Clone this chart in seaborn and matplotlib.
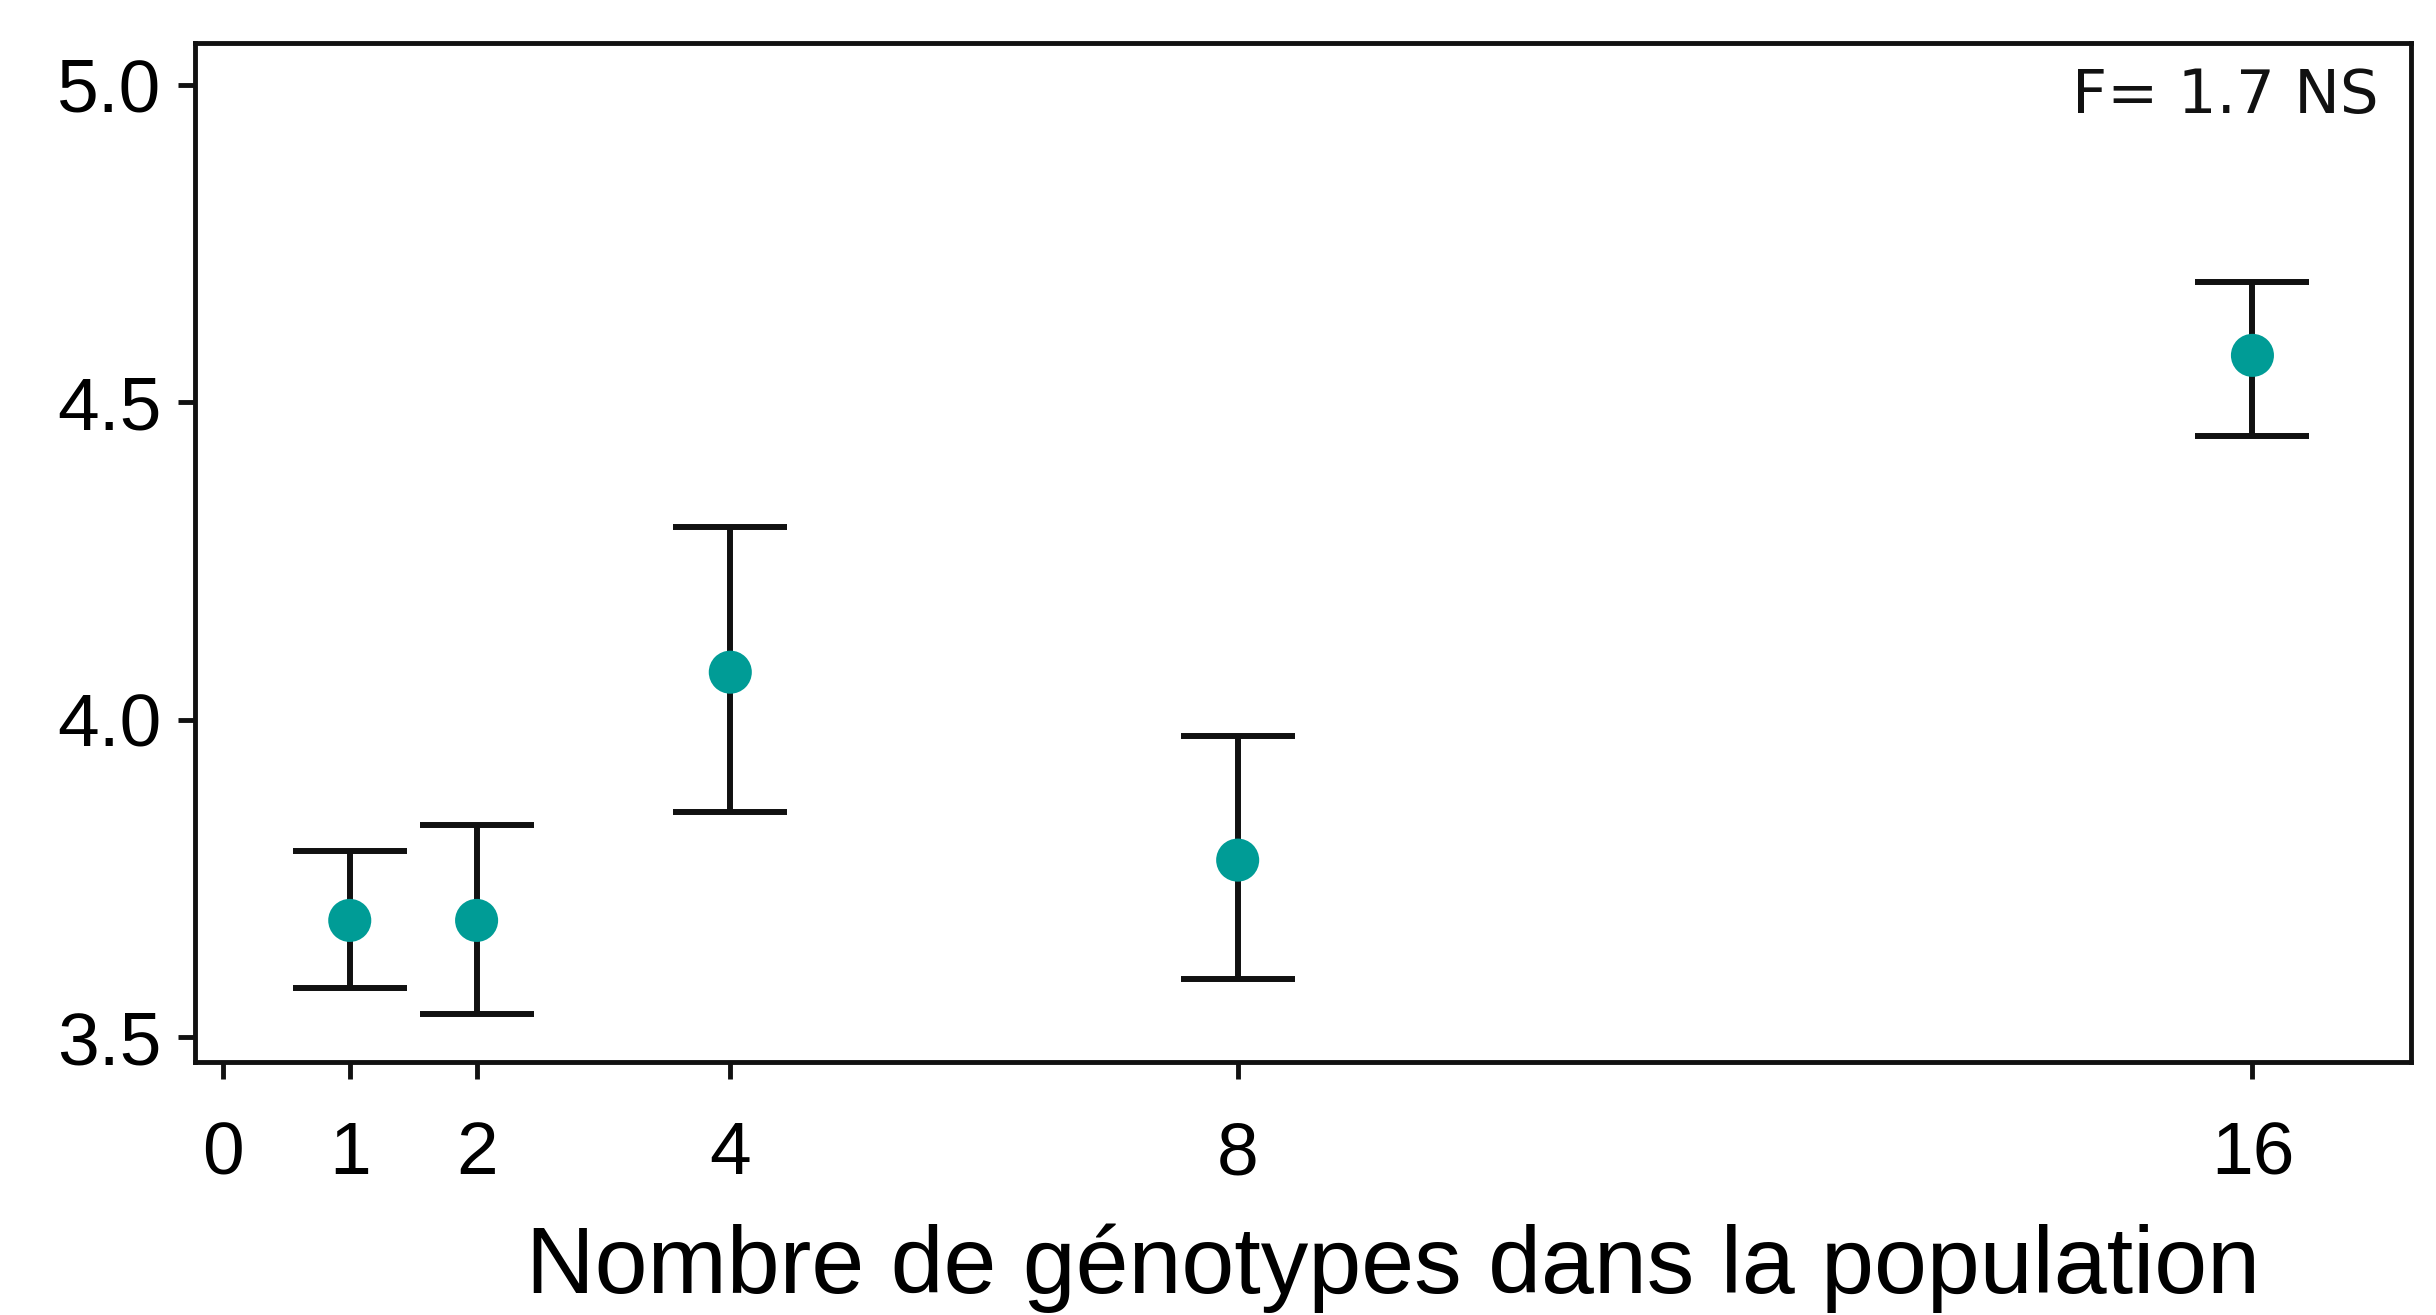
import matplotlib
matplotlib.use("Agg")
import matplotlib.pyplot as plt
import seaborn as sns
import pandas as pd
import numpy as np

# Data
genotypes = [1, 2, 4, 8, 16]
means = [3.684, 3.684, 4.075, 3.779, 4.574]
upper = [3.794, 3.835, 4.303, 3.975, 4.689]
lower = [3.578, 3.537, 3.855, 3.591, 4.447]
x_ticks = [0, 1, 2, 4, 8, 16]
y_ticks = [3.5, 4.0, 4.5, 5.0]
x_label = "Nombre de génotypes dans la population"
annotation = "F= 1.7 NS"

df = pd.DataFrame({"genotypes": genotypes, "mean": means,
                   "upper": upper, "lower": lower})

sns.set_theme(style="ticks")
plt.rcParams["font.family"] = ["Liberation Sans", "DejaVu Sans"]
plt.rcParams["text.color"] = "black"
plt.rcParams["xtick.color"] = "black"
plt.rcParams["ytick.color"] = "black"
plt.rcParams["axes.labelcolor"] = "black"

fig = plt.figure(figsize=(24.36, 13.15), dpi=100)
ax = fig.add_axes([195 / 2436, 1 - 1062 / 1315, (2411 - 195) / 2436, (1062 - 43) / 1315])

yerr = np.vstack([df["mean"] - df["lower"], df["upper"] - df["mean"]])
ax.errorbar(df["genotypes"], df["mean"], yerr=yerr, fmt="none",
            ecolor="#111111", elinewidth=4.3, capsize=41, capthick=4.3, zorder=2)
sns.scatterplot(data=df, x="genotypes", y="mean", ax=ax, color="#009C96",
                s=31 ** 2, edgecolor="none", zorder=3, legend=False)

ax.set_xlim(-0.22, 17.25)
ax.set_ylim(3.461, 5.066)
ax.set_xticks(x_ticks)
ax.set_xticklabels([str(v) for v in x_ticks])
ax.set_yticks(y_ticks)
ax.set_yticklabels([f"{v:.1f}" for v in y_ticks])
ax.tick_params(axis="both", labelsize=54, length=12, width=3.5, color="#111111",
               labelcolor="black")
ax.tick_params(axis="y", pad=12)
ax.tick_params(axis="x", pad=30)

for s in ax.spines.values():
    s.set_visible(True)
    s.set_linewidth(3.5)
    s.set_color("#111111")

ax.set_ylabel("")
ax.set_xlabel(x_label, fontsize=68.5, color="black")
ax.xaxis.set_label_coords(0.5406, -0.2267)
ax.xaxis.label.set_va("baseline")

ax.text(0.9856, 0.931, annotation, transform=ax.transAxes, ha="right",
        va="baseline", fontsize=44, family=["DejaVu Sans"], color="#111111")

fig.savefig("out.png", dpi=100, facecolor="white")
